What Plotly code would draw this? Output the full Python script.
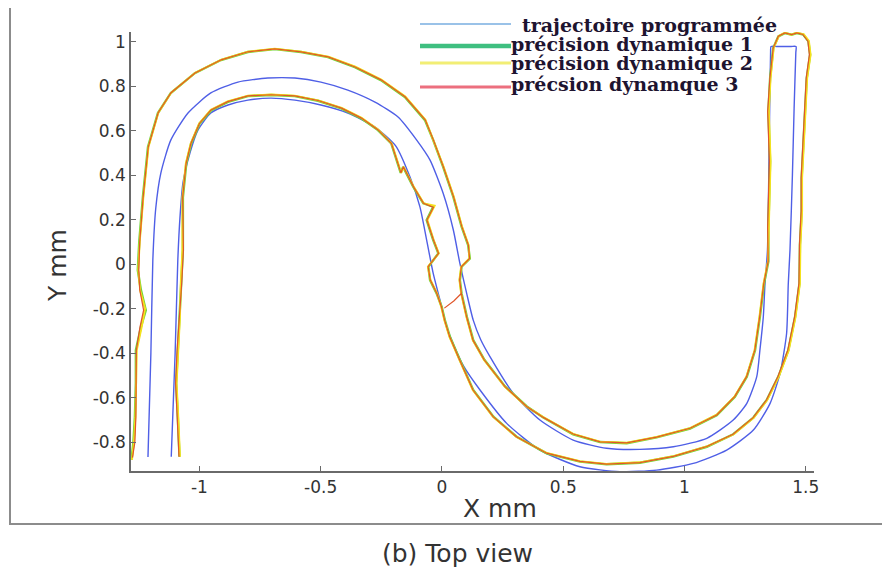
import plotly.graph_objects as go

# ---------------- data ----------------
# programmed trajectory (single open path, starting at bottom of the outer left leg)
traj_x = [-1.212, -1.200, -1.192, -1.180, -1.159, -1.118, -1.047, -0.953, -0.841, -0.718,
          -0.606, -0.499, -0.388, -0.276, -0.181, -0.104, -0.049, 0.005, 0.047, 0.074,
          0.102, 0.129, 0.160, 0.198, 0.294, 0.404, 0.541, 0.679, 0.816, 0.954,
          1.092, 1.201, 1.257, 1.298, 1.311, 1.325, 1.332, 1.342, 1.350, 1.355, 1.357, 1.380,
          1.440, 1.460, 1.459, 1.452, 1.445, 1.435, 1.428, 1.421, 1.394, 1.353, 1.284, 1.174,
          1.036, 0.885, 0.734, 0.569, 0.404, 0.267, 0.157, 0.090, 0.040, 0.019, -0.008, -0.036,
          -0.063, -0.091, -0.132, -0.190, -0.276, -0.388, -0.499, -0.606, -0.705, -0.800,
          -0.882, -0.953, -1.006, -1.039, -1.068, -1.080, -1.089, -1.100, -1.116]
traj_y = [-0.867, -0.400, 0.018, 0.250, 0.409, 0.557, 0.679, 0.769, 0.818, 0.836,
          0.836, 0.818, 0.782, 0.728, 0.661, 0.557, 0.467, 0.318, 0.153, 0.003,
          -0.132, -0.252, -0.340, -0.416, -0.581, -0.701, -0.791, -0.828, -0.833, -0.821,
          -0.783, -0.701, -0.626, -0.506, -0.387, -0.237, -0.087, 0.060, 0.600, 0.950, 0.978, 0.978,
          0.978, 0.978, 0.950, 0.700, 0.400, 0.063, -0.087, -0.312, -0.491, -0.626, -0.746, -0.836,
          -0.896, -0.926, -0.933, -0.911, -0.836, -0.716, -0.566, -0.460, -0.342, -0.282, -0.162, -0.042,
          0.108, 0.258, 0.392, 0.530, 0.616, 0.679, 0.715, 0.737, 0.746, 0.737,
          0.715, 0.679, 0.602, 0.499, 0.364, 0.211, 0.018, -0.400, -0.866]

# dynamic precision 1
dyn1_x = [-1.280, -1.272, -1.266, -1.262, -1.262, -1.241, -1.221, -1.241, -1.254, -1.248,
          -1.233, -1.212, -1.171, -1.118, -1.019, -0.911, -0.800, -0.689, -0.581, -0.470,
          -0.359, -0.252, -0.153, -0.070, -0.036, 0.005, 0.047, 0.081, 0.108, 0.115,
          0.081, 0.074, 0.081, 0.103, 0.129, 0.175, 0.260, 0.350, 0.418, 0.541,
          0.652, 0.762, 0.885, 1.023, 1.133, 1.208, 1.257, 1.291, 1.311, 1.328,
          1.346, 1.346, 1.353, 1.346, 1.353, 1.366, 1.387, 1.414, 1.442, 1.463,
          1.490, 1.511, 1.518, 1.504, 1.497, 1.490, 1.483, 1.483, 1.476, 1.474,
          1.456, 1.428, 1.387, 1.339, 1.284, 1.201, 1.092, 0.954, 0.816, 0.679,
          0.569, 0.432, 0.308, 0.212, 0.129, 0.074, 0.033, 0.012, -0.001, -0.022,
          -0.049, -0.056, -0.015, -0.036, -0.063, -0.036, -0.077, -0.118, -0.160, -0.170,
          -0.209, -0.264, -0.333, -0.415, -0.511, -0.607, -0.704, -0.800, -0.882, -0.951,
          -0.999, -1.034, -1.054, -1.068, -1.068, -1.075, -1.082, -1.089, -1.096, -1.089,
          -1.082]
dyn1_y = [-0.880, -0.800, -0.688, -0.535, -0.387, -0.283, -0.207, -0.117, -0.027, 0.100,
          0.301, 0.526, 0.679, 0.769, 0.858, 0.917, 0.953, 0.966, 0.953, 0.930,
          0.885, 0.827, 0.751, 0.647, 0.557, 0.437, 0.302, 0.168, 0.085, 0.025,
          -0.012, -0.072, -0.132, -0.238, -0.342, -0.430, -0.550, -0.640, -0.690, -0.765,
          -0.800, -0.805, -0.779, -0.739, -0.679, -0.596, -0.506, -0.387, -0.237, -0.087,
          0.012, 0.162, 0.462, 0.686, 0.836, 0.971, 1.023, 1.038, 1.031, 1.038,
          1.031, 1.001, 0.941, 0.836, 0.686, 0.536, 0.387, 0.237, 0.087, -0.087,
          -0.237, -0.387, -0.506, -0.611, -0.690, -0.765, -0.821, -0.865, -0.893, -0.900,
          -0.888, -0.851, -0.776, -0.686, -0.566, -0.431, -0.327, -0.252, -0.192, -0.132,
          -0.072, -0.012, 0.048, 0.108, 0.198, 0.258, 0.273, 0.347, 0.437, 0.410,
          0.542, 0.602, 0.655, 0.700, 0.734, 0.755, 0.760, 0.755, 0.729, 0.692,
          0.632, 0.542, 0.452, 0.300, 0.063, -0.087, -0.237, -0.387, -0.536, -0.686,
          -0.866]

# dynamic precision 2
dyn2_x = [-1.278, -1.270, -1.264, -1.260, -1.258, -1.238, -1.224, -1.244, -1.252, -1.246,
          -1.231, -1.210, -1.169, -1.116, -1.017, -0.909, -0.800, -0.689, -0.581, -0.468,
          -0.357, -0.250, -0.151, -0.068, -0.034, 0.007, 0.049, 0.083, 0.110, 0.113,
          0.079, 0.072, 0.079, 0.101, 0.127, 0.173, 0.258, 0.348, 0.418, 0.541,
          0.652, 0.762, 0.885, 1.023, 1.133, 1.206, 1.255, 1.289, 1.309, 1.326,
          1.344, 1.348, 1.355, 1.348, 1.355, 1.368, 1.389, 1.414, 1.440, 1.463,
          1.492, 1.513, 1.520, 1.506, 1.499, 1.492, 1.485, 1.485, 1.478, 1.476,
          1.458, 1.430, 1.389, 1.341, 1.286, 1.203, 1.092, 0.954, 0.816, 0.679,
          0.569, 0.432, 0.306, 0.210, 0.127, 0.072, 0.031, 0.010, -0.003, -0.020,
          -0.047, -0.058, -0.013, -0.034, -0.060, -0.030, -0.075, -0.116, -0.158, -0.168,
          -0.207, -0.262, -0.331, -0.413, -0.511, -0.607, -0.704, -0.800, -0.884, -0.953,
          -1.001, -1.036, -1.056, -1.070, -1.070, -1.077, -1.080, -1.087, -1.094, -1.087,
          -1.080]
dyn2_y = [-0.880, -0.800, -0.688, -0.535, -0.387, -0.283, -0.200, -0.120, -0.027, 0.100,
          0.301, 0.526, 0.681, 0.771, 0.860, 0.919, 0.955, 0.968, 0.955, 0.932,
          0.887, 0.829, 0.753, 0.649, 0.557, 0.437, 0.302, 0.168, 0.085, 0.025,
          -0.012, -0.072, -0.132, -0.238, -0.342, -0.430, -0.550, -0.640, -0.688, -0.763,
          -0.798, -0.803, -0.777, -0.737, -0.677, -0.596, -0.506, -0.387, -0.237, -0.087,
          0.012, 0.162, 0.462, 0.686, 0.836, 0.973, 1.025, 1.040, 1.031, 1.040,
          1.033, 1.003, 0.941, 0.836, 0.686, 0.536, 0.387, 0.237, 0.087, -0.087,
          -0.237, -0.387, -0.506, -0.611, -0.690, -0.765, -0.819, -0.863, -0.891, -0.898,
          -0.886, -0.849, -0.776, -0.686, -0.566, -0.431, -0.327, -0.252, -0.192, -0.132,
          -0.072, -0.012, 0.048, 0.108, 0.198, 0.262, 0.273, 0.347, 0.437, 0.410,
          0.542, 0.604, 0.657, 0.702, 0.736, 0.757, 0.762, 0.757, 0.731, 0.694,
          0.632, 0.542, 0.452, 0.300, 0.063, -0.087, -0.237, -0.387, -0.536, -0.686,
          -0.866]

# dynamic precision 3
dyn3_x = [-1.276, -1.266, -1.262, -1.260, -1.260, -1.245, -1.230, -1.246, -1.250, -1.246,
          -1.232, -1.211, -1.170, -1.117, -1.018, -0.910, -0.800, -0.689, -0.581, -0.469,
          -0.358, -0.251, -0.152, -0.069, -0.035, 0.006, 0.048, 0.082, 0.109, 0.114,
          0.080, 0.073, 0.080, 0.050, 0.010, 0.050, 0.080, 0.102, 0.128, 0.174,
          0.259, 0.349, 0.418, 0.541, 0.652, 0.762, 0.885, 1.023, 1.133, 1.207,
          1.256, 1.290, 1.310, 1.327, 1.345, 1.343, 1.350, 1.343, 1.352, 1.366,
          1.387, 1.414, 1.442, 1.463, 1.488, 1.509, 1.515, 1.502, 1.495, 1.488,
          1.481, 1.481, 1.474, 1.472, 1.454, 1.426, 1.385, 1.338, 1.283, 1.200,
          1.092, 0.954, 0.816, 0.679, 0.569, 0.432, 0.307, 0.211, 0.128, 0.073,
          0.032, 0.011, -0.002, -0.021, -0.048, -0.057, -0.014, -0.035, -0.062, -0.035,
          -0.076, -0.117, -0.159, -0.169, -0.208, -0.263, -0.332, -0.414, -0.511, -0.607,
          -0.704, -0.800, -0.883, -0.952, -1.000, -1.035, -1.055, -1.069, -1.066, -1.073,
          -1.083, -1.092, -1.098, -1.091, -1.084]
dyn3_y = [-0.870, -0.800, -0.688, -0.535, -0.387, -0.283, -0.207, -0.115, -0.027, 0.100,
          0.301, 0.526, 0.680, 0.770, 0.859, 0.918, 0.954, 0.967, 0.954, 0.931,
          0.886, 0.828, 0.752, 0.648, 0.557, 0.437, 0.302, 0.168, 0.085, 0.025,
          -0.012, -0.072, -0.132, -0.165, -0.198, -0.165, -0.132, -0.238, -0.342, -0.430,
          -0.550, -0.640, -0.689, -0.764, -0.799, -0.804, -0.778, -0.738, -0.678, -0.596,
          -0.506, -0.387, -0.237, -0.087, 0.012, 0.162, 0.462, 0.686, 0.836, 0.972,
          1.024, 1.039, 1.031, 1.039, 1.032, 1.002, 0.941, 0.836, 0.686, 0.536,
          0.387, 0.237, 0.087, -0.087, -0.237, -0.387, -0.506, -0.611, -0.690, -0.765,
          -0.820, -0.864, -0.892, -0.899, -0.887, -0.850, -0.776, -0.686, -0.566, -0.431,
          -0.327, -0.252, -0.192, -0.132, -0.072, -0.012, 0.048, 0.108, 0.198, 0.255,
          0.273, 0.347, 0.437, 0.410, 0.542, 0.603, 0.656, 0.701, 0.735, 0.756,
          0.761, 0.756, 0.730, 0.693, 0.632, 0.542, 0.452, 0.300, 0.063, -0.087,
          -0.237, -0.387, -0.536, -0.686, -0.866]

x_tickvals = [-1, -0.5, 0, 0.5, 1, 1.5]
x_ticktext = ["-1", "-0.5", "0", "0.5", "1", "1.5"]
y_tickvals = [-0.8, -0.6, -0.4, -0.2, 0, 0.2, 0.4, 0.6, 0.8, 1]
y_ticktext = ["-0.8", "-0.6", "-0.4", "-0.2", "0", "0.2", "0.4", "0.6", "0.8", "1"]

legend_labels = ["trajectoire programmée", "précision dynamique 1",
                 "précision dynamique 2", "précsion dynamque 3"]

# ---------------- layout geometry ----------------
# the page body has an 8px margin, so the figure is drawn 8px smaller and
# all positions below are given in window pixels and shifted by OFF
OFF = 8
W, H = 890 - OFF, 574 - OFF
PL, PR, PT, PB = 131 - OFF, 814 - OFF, 32 - OFF, 471 - OFF


def px(x):
    return (x - OFF - PL) / (PR - PL)


def py(y):
    return (PB - (y - OFF)) / (PB - PT)


fig = go.Figure()
fig.add_trace(go.Scatter(x=traj_x, y=traj_y, mode="lines",
                         line=dict(color="#4f5fe6", width=1.4, shape="spline", smoothing=0.6),
                         showlegend=False, hoverinfo="skip"))
fig.add_trace(go.Scatter(x=dyn1_x, y=dyn1_y, mode="lines",
                         line=dict(color="#6fd23a", width=2.4),
                         showlegend=False, hoverinfo="skip"))
fig.add_trace(go.Scatter(x=dyn2_x, y=dyn2_y, mode="lines",
                         line=dict(color="#f5e21c", width=1.9),
                         showlegend=False, hoverinfo="skip"))
fig.add_trace(go.Scatter(x=dyn3_x, y=dyn3_y, mode="lines",
                         line=dict(color="#e0562a", width=1.2),
                         showlegend=False, hoverinfo="skip"))

axis_common = dict(showgrid=False, zeroline=False, showline=True,
                   linecolor="#6a6a6a", linewidth=1.5, mirror=False,
                   ticks="inside", ticklen=5, tickcolor="#6a6a6a", tickwidth=1.2,
                   tickfont=dict(family="DejaVu Sans", size=17, color="#333333"))

fig.update_layout(
    width=W, height=H, autosize=False,
    margin=dict(l=PL, r=W - PR, t=PT, b=H - PB, pad=0),
    paper_bgcolor="white", plot_bgcolor="white",
    xaxis=dict(range=[-1.282, 1.534], tickvals=x_tickvals, ticktext=x_ticktext, **axis_common),
    yaxis=dict(range=[-0.93, 1.043], tickvals=y_tickvals, ticktext=y_ticktext, **axis_common),
)

shapes = []
# outer frame (its right side lies beyond the window)
shapes.append(dict(type="rect", xref="paper", yref="paper",
                   x0=px(10), x1=px(900), y0=py(524), y1=py(5),
                   line=dict(color="#8c8c8c", width=2), layer="below"))
# manual legend lines
leg_lines = [(24, "#78aee0", 1.6), (46, "#3fbf80", 4.5), (63, "#f2ee74", 3.2), (87, "#ec6f7e", 3.2)]
for yy, col, wd in leg_lines:
    shapes.append(dict(type="line", xref="paper", yref="paper",
                       x0=px(420), x1=px(511), y0=py(yy), y1=py(yy),
                       line=dict(color=col, width=wd)))
fig.update_layout(shapes=shapes)

ann = []
leg_text_pos = [(520, 25), (509, 44), (509, 63), (509, 84)]
for (tx, ty), lab in zip(leg_text_pos, legend_labels):
    ann.append(dict(xref="paper", yref="paper", x=px(tx), y=py(ty), xanchor="left", yanchor="middle",
                    text="<b>" + lab + "</b>", showarrow=False,
                    font=dict(family="DejaVu Serif", size=19, color="#1e1430")))
ann.append(dict(xref="paper", yref="paper", x=px(500), y=py(508), xanchor="center", yanchor="middle",
                text="X mm", showarrow=False,
                font=dict(family="DejaVu Sans", size=25, color="#333333")))
ann.append(dict(xref="paper", yref="paper", x=px(57), y=py(266), xanchor="center", yanchor="middle",
                text="Y mm", showarrow=False, textangle=-90,
                font=dict(family="DejaVu Sans", size=25, color="#333333")))
ann.append(dict(xref="paper", yref="paper", x=px(457), y=py(553), xanchor="center", yanchor="middle",
                text="(b) Top view", showarrow=False,
                font=dict(family="DejaVu Sans", size=25, color="#333333")))
fig.update_layout(annotations=ann)

fig.write_html("out.html")
